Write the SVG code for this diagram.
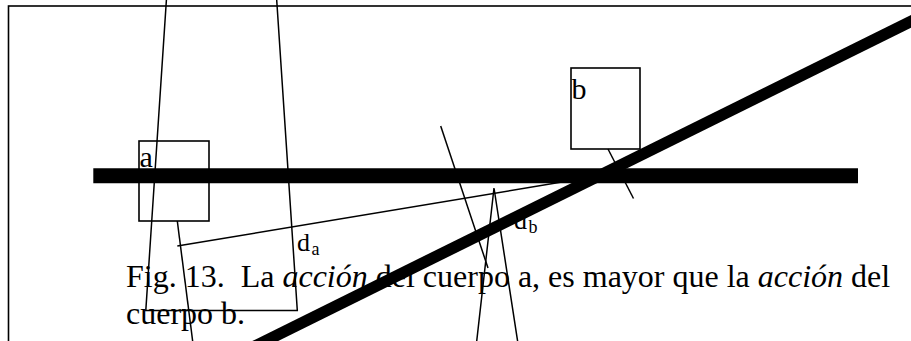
<svg xmlns="http://www.w3.org/2000/svg" width="911" height="341" viewBox="0 0 911 341">
  <style>
    .txt { font-family: "Liberation Serif", "Times New Roman", serif; fill: #000; }
    .thin { stroke: #000; stroke-width: 1.5; fill: none; }
    .box { stroke: #000; stroke-width: 1.6; fill: none; }
    .thick { stroke: #000; fill: none; }
  </style>
  <rect width="911" height="341" fill="#fff"/>
  <rect x="8.5" y="6" width="920" height="400" fill="none" stroke="#000" stroke-width="1.6"/>

  <g id="caption">
    <text class="txt" font-size="32" x="126" y="287" xml:space="preserve">Fig. 13.  La <tspan font-style="italic">acción</tspan> del cuerpo a, es mayor que la <tspan font-style="italic">acción</tspan> del</text>
    <text class="txt" font-size="32" x="126" y="324">cuerpo b.</text>
  </g>

  <g id="label-da">
    <text class="txt" font-size="26" x="297" y="250.5">d</text>
    <text class="txt" font-size="18" x="311.5" y="254.5">a</text>
  </g>
  <g id="label-db">
    <text class="txt" font-size="26" x="514" y="229">d</text>
    <text class="txt" font-size="18" x="528.5" y="233">b</text>
  </g>

  <g id="node-a">
    <rect class="box" x="139" y="141" width="70" height="80"/>
    <text class="txt" font-size="30" x="139.5" y="167">a</text>
  </g>
  <g id="node-b">
    <rect class="box" x="571" y="68" width="69" height="81"/>
    <text class="txt" font-size="30" x="571.5" y="98.5">b</text>
  </g>

  <g id="connectors">
    <polyline class="thin" points="166.8,-6 145.8,310.5 297.3,310.5 276.3,-6"/>
    <line class="thin" x1="177.3" y1="221" x2="192.9" y2="343"/>
    <line class="thin" x1="177.3" y1="246" x2="598" y2="176" stroke-width="1.8"/>
    <line class="thin" x1="440.7" y1="126" x2="488" y2="268"/>
    <polyline class="thin" points="476.5,343 494,188 517.9,343"/>
    <line class="thin" x1="608" y1="149" x2="633.5" y2="198.5"/>
    <line class="thick" x1="93.3" y1="175.8" x2="858" y2="175.8" stroke-width="15"/>
    <line class="thick" x1="245" y1="351" x2="930" y2="12" stroke-width="11.5"/>
  </g>
</svg>
